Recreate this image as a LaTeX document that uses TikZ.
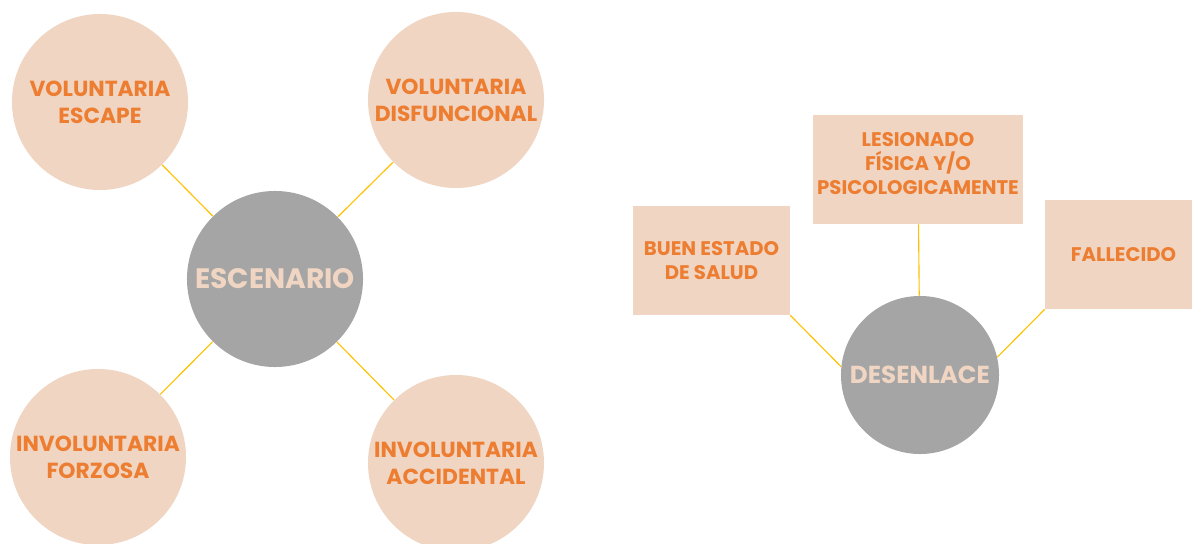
\documentclass[tikz,border=0pt]{standalone}
\usepackage{fontspec}
\setmainfont{Poppins}
\definecolor{peach}{HTML}{EFD5C2}
\definecolor{naranja}{HTML}{ED7D31}
\definecolor{gris}{HTML}{A5A5A5}
\definecolor{amarillo}{HTML}{FFC000}
\tikzset{
 burbuja/.style={circle,fill=peach,minimum size=4.4cm,inner sep=0pt,align=center,
  text=naranja,font=\fontsize{15.5}{19}\selectfont\bfseries},
 centro/.style={circle,fill=gris,inner sep=0pt,text=peach,font=\fontsize{20}{24}\selectfont\bfseries},
 caja/.style={rectangle,fill=peach,minimum height=2.725cm,inner sep=0pt,align=center,
  text=naranja,font=\fontsize{14}{17}\selectfont\bfseries},
 enlace/.style={amarillo,line width=0.8pt}
}
\begin{document}
\begin{tikzpicture}[x=0.025cm,y=-0.025cm]
 \useasboundingbox (0,0) rectangle (1192,544);
 \node[burbuja] (vesc) at (100,102) {VOLUNTARIA\\ESCAPE};
 \node[burbuja] (vdis) at (456,100) {VOLUNTARIA\\DISFUNCIONAL};
 \node[burbuja] (ifor) at (98,457) {INVOLUNTARIA\\FORZOSA};
 \node[burbuja] (iacc) at (456,463) {INVOLUNTARIA\\ACCIDENTAL};
 \node[centro,minimum size=4.4cm] (esc) at (275,279) {ESCENARIO};
 \draw[enlace] (esc) -- (vesc);
 \draw[enlace] (esc) -- (vdis);
 \draw[enlace] (esc) -- (ifor);
 \draw[enlace] (esc) -- (iacc);
 \node[caja,minimum width=3.925cm] (buen) at (711.5,260.5) {BUEN ESTADO\\DE SALUD};
 \node[caja,minimum width=5.25cm] (lesi) at (918,169.5) {LESIONADO\\FÍSICA Y/O\\PSICOLOGICAMENTE\\[-8.5pt]};
 \node[caja,minimum width=3.925cm] (fall) at (1123.5,254.5) {FALLECIDO};
 \node[centro,minimum size=3.95cm,font=\fontsize{17.5}{21}\selectfont\bfseries] (des) at (920,375) {DESENLACE};
 \draw[enlace] (buen.south east) -- (des.174);
 \draw[enlace] (lesi) -- (des);
 \draw[enlace] (fall.south west) -- (des.13);
\end{tikzpicture}
\end{document}
